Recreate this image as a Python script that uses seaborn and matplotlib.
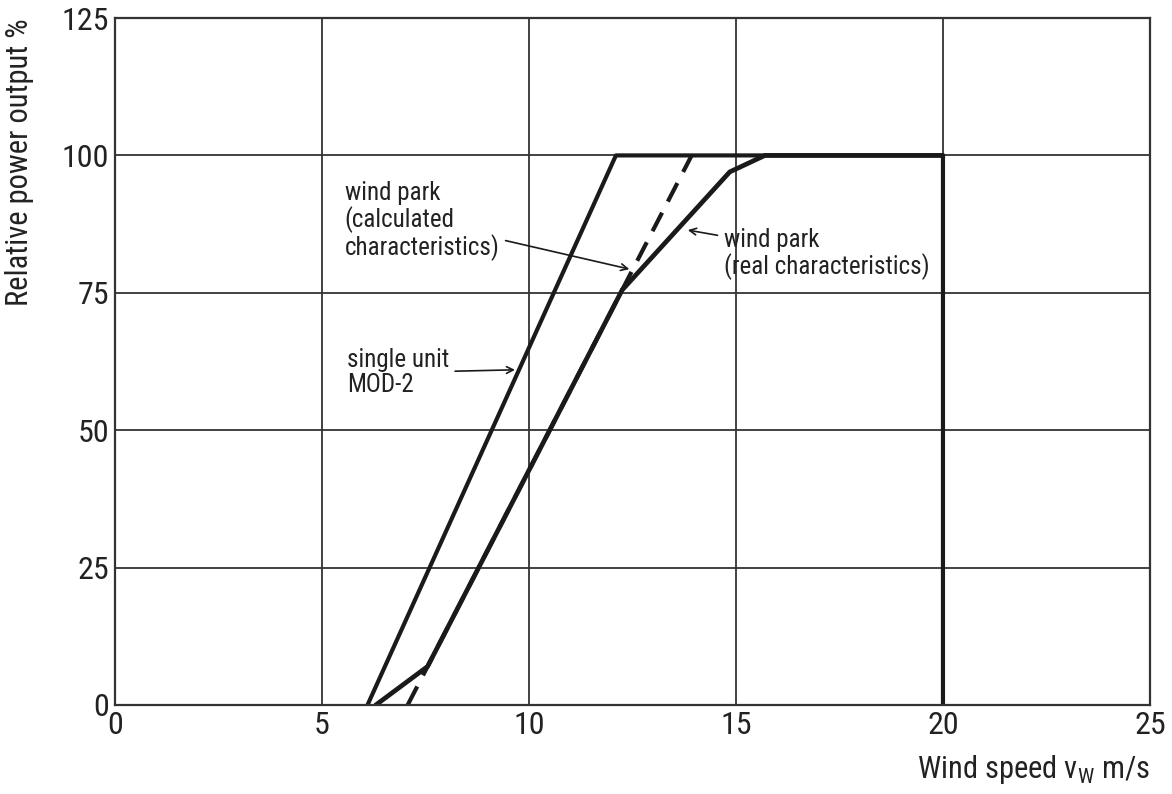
import matplotlib
matplotlib.use('Agg')
import matplotlib.pyplot as plt
from matplotlib import font_manager
import seaborn as sns
import pandas as pd

# Datos
single_x = [6.1, 12.1, 20.0, 20.0]
single_y = [0, 100, 100, 0]
real_x = [6.3, 7.55, 12.25, 14.85, 15.7, 20.0]
real_y = [0, 7, 75.5, 97, 100, 100]
calc_x = [7.07, 13.93]
calc_y = [0, 100]
x_ticks = [0, 5, 10, 15, 20, 25]
y_ticks = [0, 25, 50, 75, 100, 125]

sns.set_theme(style='white')

# buscar una fuente estrecha instalada
installed = {f.name for f in font_manager.fontManager.ttflist}
narrow = [n for n in ['Roboto Condensed', 'Liberation Sans Narrow',
                      'Open Sans Condensed'] if n in installed]
plt.rcParams['font.family'] = narrow + ['DejaVu Sans']
plt.rcParams['font.stretch'] = 'condensed'
plt.rcParams['mathtext.default'] = 'regular'
txt = '#222222'
ink = '#1a1a1a'

fig = plt.figure(figsize=(11.72, 7.94), dpi=100)
ax = fig.add_axes([0.0981, 0.1121, 0.8831, 0.8652])

df_single = pd.DataFrame({'x': single_x, 'y': single_y})
df_real = pd.DataFrame({'x': real_x, 'y': real_y})
df_calc = pd.DataFrame({'x': calc_x, 'y': calc_y})

sns.lineplot(data=df_calc, x='x', y='y', ax=ax, color=ink, lw=3,
             sort=False, estimator=None)
ax.lines[-1].set_dashes([5, 3])
sns.lineplot(data=df_single, x='x', y='y', ax=ax, color=ink, lw=3,
             sort=False, estimator=None)
sns.lineplot(data=df_real, x='x', y='y', ax=ax, color=ink, lw=3.4,
             sort=False, estimator=None)

ax.set_xlim(0, 25)
ax.set_ylim(0, 125)
ax.set_xticks(x_ticks)
ax.set_yticks(y_ticks)
ax.grid(True, color='#333333', lw=1.3)
ax.set_axisbelow(True)
for s in ax.spines.values():
    s.set_color('#333333')
    s.set_linewidth(1.6)
ax.tick_params(length=0, labelsize=23, labelcolor=txt, pad=4)

ax.set_ylabel('Relative power output %', fontsize=22, color=txt)
ax.yaxis.set_label_coords(-0.078, 0.79)
ax.set_xlabel('Wind speed $v_W$ m/s', fontsize=22, color=txt, ha='right')
ax.xaxis.set_label_coords(1.0, -0.07)

arr = dict(arrowstyle='->', color=ink, lw=1.2, mutation_scale=12)
ax.annotate('wind park\n(calculated\ncharacteristics)', xy=(12.49, 79.2),
            xytext=(5.55, 88), fontsize=18, color=txt, va='center',
            linespacing=1.05, arrowprops=arr)
ax.annotate('single unit\nMOD-2', xy=(9.73, 61), xytext=(5.6, 60.5),
            fontsize=18, color=txt, va='center', linespacing=1.05,
            arrowprops=arr)
ax.annotate('wind park\n(real characteristics)', xy=(13.77, 86.5),
            xytext=(14.7, 82), fontsize=18, color=txt, va='center',
            linespacing=1.05, arrowprops=arr)

fig.savefig('out.png', dpi=100)
